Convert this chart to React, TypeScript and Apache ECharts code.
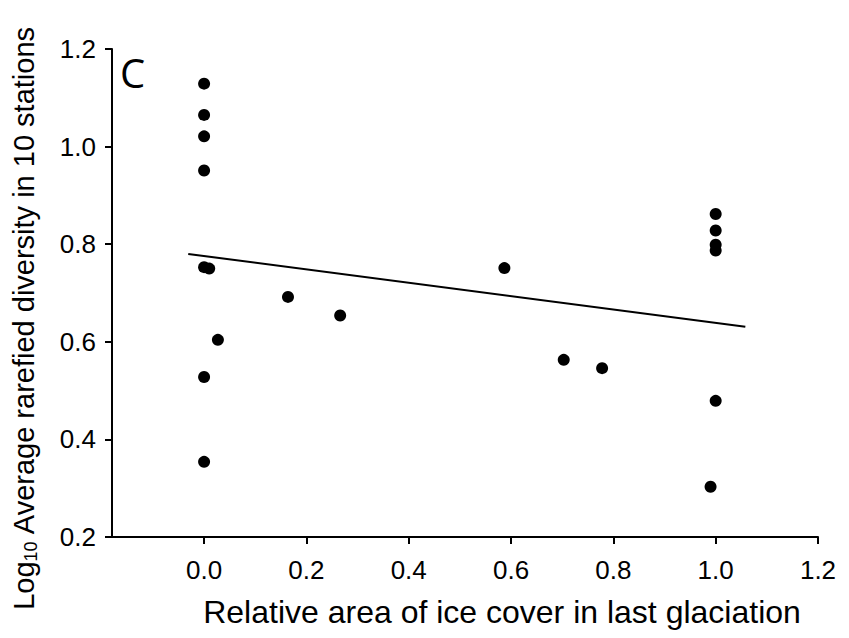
import React, { useEffect, useRef } from "react";
import * as echarts from "echarts";

const iceCover: number[] = [0, 0, 0, 0, 0, 0.01, 0.027, 0, 0, 0.164, 0.266, 0.587, 0.703, 0.778, 1.0, 1.0, 1.0, 1.0, 1.0, 0.99];
const diversity: number[] = [1.129, 1.065, 1.021, 0.951, 0.753, 0.75, 0.604, 0.528, 0.354, 0.692, 0.654, 0.751, 0.563, 0.546, 0.862, 0.828, 0.799, 0.787, 0.479, 0.303];
const fitX: number[] = [-0.031, 1.058];
const fitY: number[] = [0.78, 0.631];
const xTicks: number[] = [0, 0.2, 0.4, 0.6, 0.8, 1.0, 1.2];
const xTitle = "Relative area of ice cover in last glaciation";
const yTitle = "{a|Log}{b|10}{a| Average rarefied diversity in 10 stations}";

export default function App() {
  const ref = useRef<HTMLDivElement>(null);
  useEffect(() => {
    if (!ref.current) return;
    const chart = echarts.init(ref.current, undefined, { renderer: "svg" });
    const font = "Liberation Sans, Arial, sans-serif";
    chart.setOption({
      animation: false,
      backgroundColor: "#fff",
      grid: { left: 104, right: 31, top: 41, bottom: 101, containLabel: false, outerBoundsMode: "none" },
      xAxis: {
        type: "value",
        min: -0.18,
        max: 1.2,
        axisLine: { onZero: false, lineStyle: { color: "#000", width: 2 } },
        axisTick: { show: true, length: 7, lineStyle: { color: "#000", width: 2 }, customValues: xTicks },
        axisLabel: {
          fontFamily: font, fontSize: 26, color: "#000", margin: 20,
          customValues: xTicks,
          formatter: (v: number) => v.toFixed(1),
        },
        splitLine: { show: false },
      },
      yAxis: {
        type: "value",
        min: 0.2,
        max: 1.2,
        interval: 0.2,
        axisLine: { show: true, onZero: false, lineStyle: { color: "#000", width: 2 } },
        axisTick: { show: true, length: 7, lineStyle: { color: "#000", width: 2 } },
        axisLabel: {
          fontFamily: font, fontSize: 26, color: "#000", margin: 16,
          formatter: (v: number) => v.toFixed(1),
        },
        splitLine: { show: false },
      },
      graphic: [
        {
          type: "text",
          left: 112,
          top: 44,
          style: { text: "C", fontFamily: "Open Sans, sans-serif", fontSize: 40, fill: "#000" },
        },
        {
          type: "text",
          x: 494,
          y: 604,
          style: {
            text: xTitle, fontFamily: font, fontSize: 32, fill: "#000",
            align: "center", verticalAlign: "middle",
          },
        },
        {
          type: "text",
          x: 16,
          y: 310,
          rotation: Math.PI / 2,
          style: {
            text: yTitle, fill: "#000", align: "center", verticalAlign: "middle",
            rich: {
              a: { fontFamily: font, fontSize: 29, fill: "#000" },
              b: { fontFamily: font, fontSize: 18, fill: "#000", verticalAlign: "bottom", padding: [14, 0, 0, 0] },
            },
          },
        },
      ],
      series: [
        {
          type: "line",
          data: fitX.map((x, i) => [x, fitY[i]]),
          symbol: "none",
          lineStyle: { color: "#000", width: 2 },
          silent: true,
        },
        {
          type: "scatter",
          data: iceCover.map((x, i) => [x, diversity[i]]),
          symbolSize: 12,
          itemStyle: { color: "#000", opacity: 1 },
        },
      ],
    });
    return () => chart.dispose();
  }, []);
  return <div ref={ref} style={{ width: 841, height: 630 }} />;
}
